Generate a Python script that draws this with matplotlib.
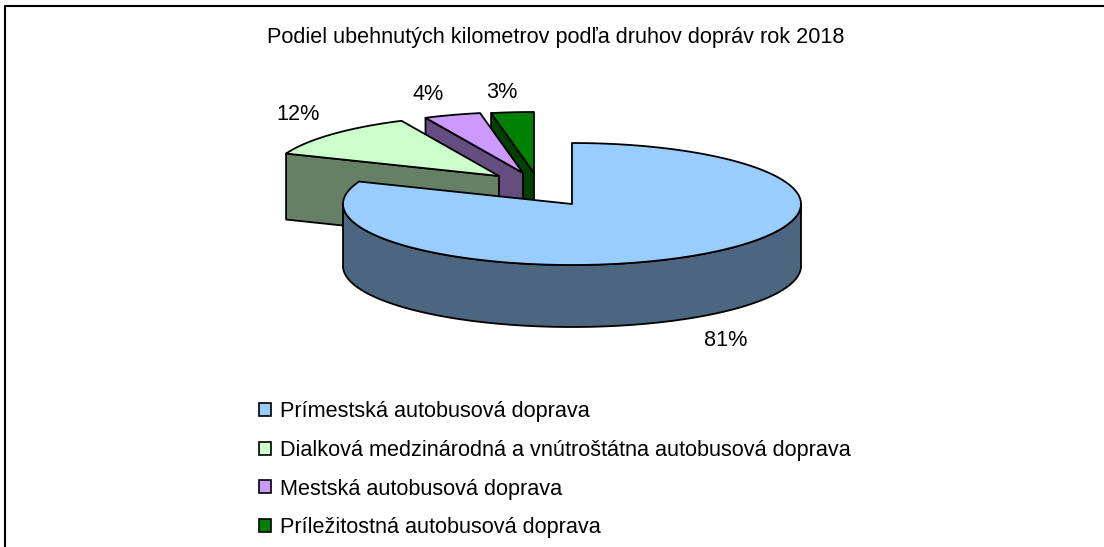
import numpy as np
import matplotlib
matplotlib.use("Agg")
import matplotlib.pyplot as plt
from matplotlib.patches import Polygon, Patch

plt.rcParams['font.family'] = ['Liberation Sans', 'DejaVu Sans']

title = "Podiel ubehnutých kilometrov podľa druhov dopráv rok 2018"
categories = ["Prímestská autobusová doprava",
              "Dialková medzinárodná a vnútroštátna autobusová doprava",
              "Mestská autobusová doprava",
              "Príležitostná autobusová doprava"]
shares = [81, 12, 4, 3]

top_colors = ['#99CCFF', '#CCFFCC', '#CC99FF', '#008000']
side_colors = ['#4D6680', '#668066', '#664D80', '#004000']
centers = [(572, 204), (499, 176), (523, 173), (534, 173)]
label_pos = [(726, 340), (298, 114), (428, 94), (502, 92)]
depths = [62, 66, 62, 62]
RX, RY = 229, 61
W, H = 1104, 547
FS = 15.6

fig = plt.figure(figsize=(W / 100, H / 100), dpi=100)
ax = fig.add_axes([0, 0, 1, 1])
ax.set_xlim(0, W)
ax.set_ylim(H, 0)
ax.axis('off')

# frame: only the top and left edges are visible
ax.plot([5, 5, W], [H, 6, 6], color='black', lw=1.5, zorder=0)


def arc(c, a0, a1, n=200):
    t = np.radians(np.linspace(a0, a1, n))
    return np.column_stack([c[0] + RX * np.sin(t), c[1] - RY * np.cos(t)])


bounds = np.concatenate([[0], np.cumsum(shares)]) * 3.6
edge = dict(edgecolor='black', lw=1.3, joinstyle='round')
# back slices first, main slice last
for i in [3, 2, 1, 0]:
    a0, a1 = bounds[i], bounds[i + 1]
    c = np.array(centers[i], float)
    d = np.array([0, depths[i]])
    top = np.vstack([[c], arc(c, a0, a1)])
    if i == 0:
        rim = arc(c, 90, 270)
        ax.add_patch(Polygon(np.vstack([rim, (rim + d)[::-1]]), closed=True,
                             facecolor=side_colors[i], **edge))
    else:
        p = arc(c, a0, a0, 2)[0]
        ax.add_patch(Polygon([c, p, p + d, c + d], closed=True,
                             facecolor=side_colors[i], **edge))
    ax.add_patch(Polygon(top, closed=True, facecolor=top_colors[i], **edge))

for s, (x, y) in zip(shares, label_pos):
    ax.text(x, y, f"{s}%", fontsize=FS, ha='center', va='center', color='black')

ax.text(556, 37, title, fontsize=FS, ha='center', va='center', color='black')

handles = [Patch(facecolor=c, edgecolor='black', lw=1.2) for c in top_colors]
ax.legend(handles, categories, loc='upper left', bbox_to_anchor=(259 / W, 1 - 401 / H),
          frameon=False, fontsize=FS, handlelength=0.55, handleheight=0.55,
          handletextpad=0.4, labelspacing=0.82, borderpad=0, borderaxespad=0)

fig.savefig('out.png', dpi=100)
